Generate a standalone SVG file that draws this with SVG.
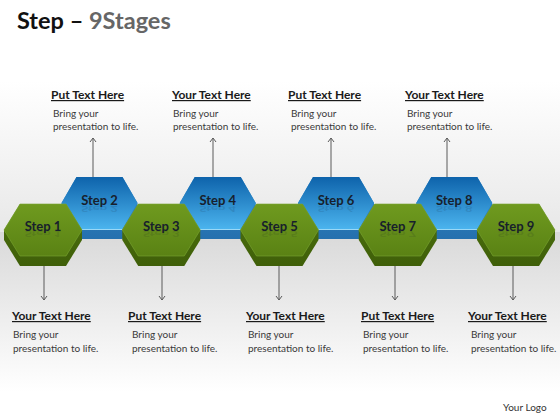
<svg xmlns="http://www.w3.org/2000/svg" xmlns:xlink="http://www.w3.org/1999/xlink" width="560" height="420" viewBox="0 0 560 420">
<style>
.hdr{font-family:Lato,"Liberation Sans",sans-serif;font-weight:bold;font-size:12px;fill:#1a1a1a;text-decoration:underline;}
.body{font-family:Lato,"Liberation Sans",sans-serif;font-size:10px;fill:#3a3a3a;}
.step{font-family:Lato,"Liberation Sans",sans-serif;font-weight:bold;font-size:13px;fill:#17202c;text-anchor:middle;}
.refl{font-family:Lato,"Liberation Sans",sans-serif;font-weight:bold;font-size:13px;fill:#17202c;text-anchor:middle;opacity:0.13;}
.conn{stroke:#5a5a5a;stroke-width:1;fill:none;}
</style>
<defs>
<linearGradient id="bgTop" x1="0" y1="0" x2="0" y2="1">
<stop offset="0" stop-color="#ffffff"/>
<stop offset="0.35" stop-color="#ffffff"/>
<stop offset="1" stop-color="#e8e8e8"/>
</linearGradient>
<linearGradient id="bgBot" x1="0" y1="0" x2="0" y2="1">
<stop offset="0" stop-color="#d9d9d9"/>
<stop offset="0.85" stop-color="#ffffff"/>
<stop offset="1" stop-color="#ffffff"/>
</linearGradient>
<linearGradient id="gFaceGr" x1="0" y1="0" x2="0" y2="1">
<stop offset="0" stop-color="#6f9a1f"/>
<stop offset="1" stop-color="#5a8214"/>
</linearGradient>
<linearGradient id="gSideGr" x1="0" y1="0" x2="0" y2="1">
<stop offset="0" stop-color="#4d720e"/>
<stop offset="1" stop-color="#3f5f09"/>
</linearGradient>
<linearGradient id="bFaceGr" x1="0" y1="0" x2="0" y2="1">
<stop offset="0" stop-color="#0e63ab"/>
<stop offset="1" stop-color="#4bb4ee"/>
</linearGradient>
<linearGradient id="bSideGr" x1="0" y1="0" x2="0" y2="1">
<stop offset="0" stop-color="#2f88c8"/>
<stop offset="1" stop-color="#2570ae"/>
</linearGradient>
<polygon id="gSide" points="-23,204 23,204 39,230 39,240 23,266 -23,266 -39,240 -39,230" fill="url(#gSideGr)"/>
<polygon id="gFace" points="-23,204 23,204 39,230 23,256 -23,256 -39,230" fill="url(#gFaceGr)" stroke="#7aa632" stroke-width="0.6"/>
<polygon id="bSide" points="-23,177 23,177 38,203 38,213 23,239 -23,239 -38,213 -38,203" fill="url(#bSideGr)"/>
<polygon id="bFace" points="-23,177 23,177 38,203 23,229 -23,229 -38,203" fill="url(#bFaceGr)"/>
<marker id="arr" viewBox="-6 -5 8 10" markerWidth="8" markerHeight="10" refX="0" refY="0" orient="auto" markerUnits="userSpaceOnUse">
<path d="M-4,-3 L0,0 L-4,3" fill="none" stroke="#5a5a5a" stroke-width="1"/>
</marker>
</defs>

<rect x="0" y="0" width="560" height="232" fill="url(#bgTop)"/>
<rect x="0" y="232" width="560" height="188" fill="url(#bgBot)"/>

<text x="17" y="29" font-family="Lato,'Liberation Sans',sans-serif" font-weight="bold" font-size="23.5" fill="#111111">Step – <tspan fill="#666666">9Stages</tspan></text>

<g id="connectors">
<line class="conn" x1="93" y1="177" x2="93" y2="138" marker-end="url(#arr)"/>
<line class="conn" x1="213" y1="177" x2="213" y2="138" marker-end="url(#arr)"/>
<line class="conn" x1="331" y1="177" x2="331" y2="138" marker-end="url(#arr)"/>
<line class="conn" x1="447" y1="177" x2="447" y2="138" marker-end="url(#arr)"/>
<line class="conn" x1="44" y1="266" x2="44" y2="300" marker-end="url(#arr)"/>
<line class="conn" x1="162" y1="266" x2="162" y2="300" marker-end="url(#arr)"/>
<line class="conn" x1="279" y1="266" x2="279" y2="300" marker-end="url(#arr)"/>
<line class="conn" x1="395" y1="266" x2="395" y2="300" marker-end="url(#arr)"/>
<line class="conn" x1="513" y1="266" x2="513" y2="300" marker-end="url(#arr)"/>
</g>

<g id="step2" transform="translate(99.5,0)">
<use xlink:href="#bSide"/><use xlink:href="#bFace"/>
<line x1="-23" y1="229.5" x2="23" y2="229.5" stroke="#9bd9f7" stroke-width="1"/>
<text class="step" x="0" y="205">Step 2</text>
<text class="refl" x="0" y="205" transform="matrix(1,0,0,-0.55,0,318.75)">Step 2</text>
</g>
<g id="step4" transform="translate(217.75,0)">
<use xlink:href="#bSide"/><use xlink:href="#bFace"/>
<line x1="-23" y1="229.5" x2="23" y2="229.5" stroke="#9bd9f7" stroke-width="1"/>
<text class="step" x="0" y="205">Step 4</text>
<text class="refl" x="0" y="205" transform="matrix(1,0,0,-0.55,0,318.75)">Step 4</text>
</g>
<g id="step6" transform="translate(336,0)">
<use xlink:href="#bSide"/><use xlink:href="#bFace"/>
<line x1="-23" y1="229.5" x2="23" y2="229.5" stroke="#9bd9f7" stroke-width="1"/>
<text class="step" x="0" y="205">Step 6</text>
<text class="refl" x="0" y="205" transform="matrix(1,0,0,-0.55,0,318.75)">Step 6</text>
</g>
<g id="step8" transform="translate(454.25,0)">
<use xlink:href="#bSide"/><use xlink:href="#bFace"/>
<line x1="-23" y1="229.5" x2="23" y2="229.5" stroke="#9bd9f7" stroke-width="1"/>
<text class="step" x="0" y="205">Step 8</text>
<text class="refl" x="0" y="205" transform="matrix(1,0,0,-0.55,0,318.75)">Step 8</text>
</g>

<g id="step1" transform="translate(43,0)">
<use xlink:href="#gSide"/><use xlink:href="#gFace"/>
<text class="step" x="0" y="231">Step 1</text>
<text class="refl" x="0" y="231" transform="matrix(1,0,0,-0.55,0,358.05)">Step 1</text>
</g>
<g id="step3" transform="translate(161.25,0)">
<use xlink:href="#gSide"/><use xlink:href="#gFace"/>
<text class="step" x="0" y="231">Step 3</text>
<text class="refl" x="0" y="231" transform="matrix(1,0,0,-0.55,0,358.05)">Step 3</text>
</g>
<g id="step5" transform="translate(279.5,0)">
<use xlink:href="#gSide"/><use xlink:href="#gFace"/>
<text class="step" x="0" y="231">Step 5</text>
<text class="refl" x="0" y="231" transform="matrix(1,0,0,-0.55,0,358.05)">Step 5</text>
</g>
<g id="step7" transform="translate(397.75,0)">
<use xlink:href="#gSide"/><use xlink:href="#gFace"/>
<text class="step" x="0" y="231">Step 7</text>
<text class="refl" x="0" y="231" transform="matrix(1,0,0,-0.55,0,358.05)">Step 7</text>
</g>
<g id="step9" transform="translate(516,0)">
<use xlink:href="#gSide"/><use xlink:href="#gFace"/>
<text class="step" x="0" y="231">Step 9</text>
<text class="refl" x="0" y="231" transform="matrix(1,0,0,-0.55,0,358.05)">Step 9</text>
</g>

<g id="label-top1">
<text class="hdr" x="51" y="99">Put Text Here</text>
<text class="body" x="53" y="117">Bring your</text>
<text class="body" x="53" y="130">presentation to life.</text>
</g>
<g id="label-top2">
<text class="hdr" x="172" y="99">Your Text Here</text>
<text class="body" x="173" y="117">Bring your</text>
<text class="body" x="173" y="130">presentation to life.</text>
</g>
<g id="label-top3">
<text class="hdr" x="288" y="99">Put Text Here</text>
<text class="body" x="291" y="117">Bring your</text>
<text class="body" x="291" y="130">presentation to life.</text>
</g>
<g id="label-top4">
<text class="hdr" x="405" y="99">Your Text Here</text>
<text class="body" x="407" y="117">Bring your</text>
<text class="body" x="407" y="130">presentation to life.</text>
</g>

<g id="label-bot1">
<text class="hdr" x="12" y="320">Your Text Here</text>
<text class="body" x="13" y="338">Bring your</text>
<text class="body" x="13" y="352">presentation to life.</text>
</g>
<g id="label-bot2">
<text class="hdr" x="128" y="320">Put Text Here</text>
<text class="body" x="132" y="338">Bring your</text>
<text class="body" x="132" y="352">presentation to life.</text>
</g>
<g id="label-bot3">
<text class="hdr" x="246" y="320">Your Text Here</text>
<text class="body" x="248" y="338">Bring your</text>
<text class="body" x="248" y="352">presentation to life.</text>
</g>
<g id="label-bot4">
<text class="hdr" x="361" y="320">Put Text Here</text>
<text class="body" x="363" y="338">Bring your</text>
<text class="body" x="363" y="352">presentation to life.</text>
</g>
<g id="label-bot5">
<text class="hdr" x="468" y="320">Your Text Here</text>
<text class="body" x="471" y="338">Bring your</text>
<text class="body" x="471" y="352">presentation to life.</text>
</g>

<text x="503" y="411" font-family="Lato,'Liberation Sans',sans-serif" font-size="10" fill="#333333">Your Logo</text>
</svg>
